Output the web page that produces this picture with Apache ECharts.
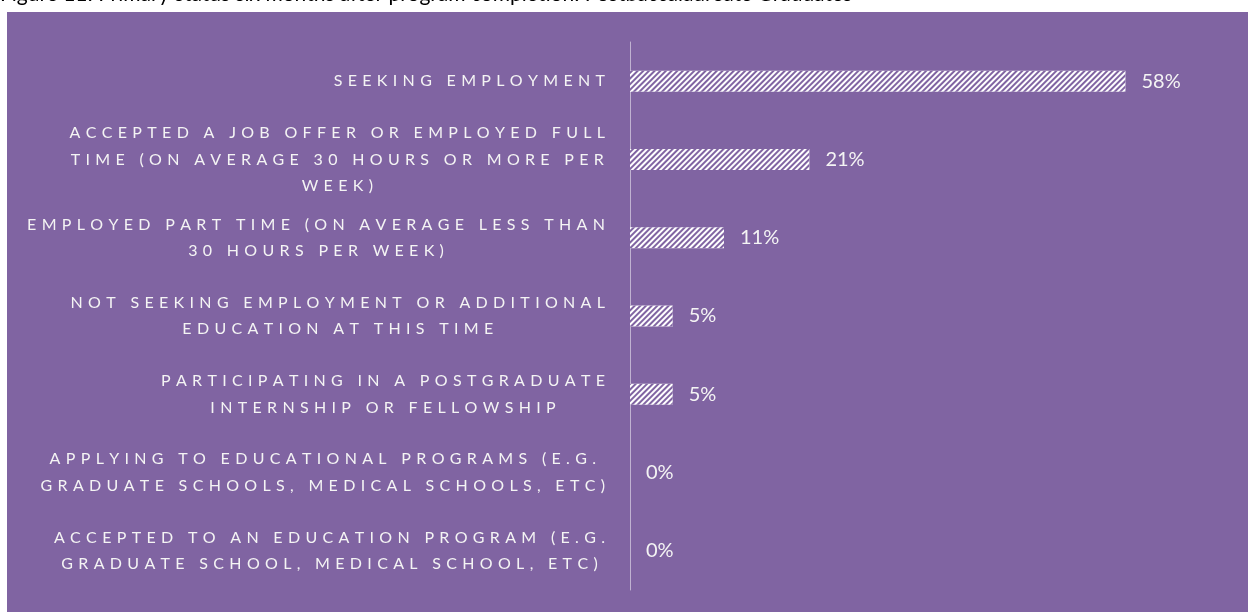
<!DOCTYPE html>
<html>
<head>
<meta charset="utf-8">
<script src="https://cdn.jsdelivr.net/npm/echarts@6/dist/echarts.min.js"></script>
<style>
  html, body { margin: 0; padding: 0; background: #ffffff; }
  #chart { width: 1248px; height: 612px; }
</style>
</head>
<body>
<div id="chart"></div>
<script>
// Status categories, top to bottom (line breaks as set in the label)
const categories = [
  'SEEKING EMPLOYMENT',
  'ACCEPTED A JOB OFFER OR EMPLOYED FULL\nTIME (ON AVERAGE 30 HOURS OR MORE PER\nWEEK)',
  'EMPLOYED PART TIME (ON AVERAGE LESS THAN\n30 HOURS PER WEEK)',
  'NOT SEEKING EMPLOYMENT OR ADDITIONAL\nEDUCATION AT THIS TIME',
  'PARTICIPATING IN A POSTGRADUATE\nINTERNSHIP OR FELLOWSHIP',
  'APPLYING TO EDUCATIONAL PROGRAMS (E.G.\nGRADUATE SCHOOLS, MEDICAL SCHOOLS, ETC)',
  'ACCEPTED TO AN EDUCATION PROGRAM (E.G.\nGRADUATE SCHOOL, MEDICAL SCHOOL, ETC)'
];

// Share of respondents, percent
const shares = [58, 21, 11, 5, 5, 0, 0];

const titleText = 'Figure 11: Primary status six months after program completion: Postbaccalaureate Graduates';

const PANEL = '#8064A2';
const TEXT = '#f4f4f4';

// Tracked-out capitals: each line is spaced letter by letter and centred in its block
function trackLine(line) {
  return Array.from(line).join('\u2004');
}
function labelFormatter(value) {
  return value.split('\n').map(l => '{c|' + trackLine(l) + '}').join('\n');
}

const chart = echarts.init(document.getElementById('chart'), null, { renderer: 'canvas' });

chart.setOption({
  backgroundColor: '#ffffff',
  animation: false,
  graphic: [
    {
      type: 'rect',
      left: 7, top: 12,
      shape: { width: 1241, height: 600 },
      style: { fill: PANEL },
      z: -10
    },
    {
      type: 'text',
      x: 0, y: -6,
      style: {
        text: titleText,
        font: '21px Lato',
        fill: '#000000',
        verticalAlign: 'middle'
      },
      z: -5
    }
  ],
  grid: { left: 630, right: 20, top: 42, bottom: 22, containLabel: false, outerBoundsMode: 'none' },
  xAxis: {
    type: 'value',
    min: 0,
    max: 70,
    show: false
  },
  yAxis: {
    type: 'category',
    data: categories,
    inverse: true,
    axisLine: { show: true, lineStyle: { color: 'rgba(255,255,255,0.5)', width: 1 } },
    axisTick: { show: false },
    axisLabel: {
      margin: 25,
      color: TEXT,
      formatter: labelFormatter,
      rich: {
        c: {
          align: 'center',
          fontFamily: 'Lato',
          fontSize: 16,
          color: TEXT,
          lineHeight: 26.5
        }
      }
    }
  },
  series: [{
    type: 'bar',
    data: shares,
    barWidth: 21,
    itemStyle: {
      color: '#ffffff',
      decal: {
        symbol: 'rect',
        color: PANEL,
        dashArrayX: [1, 0],
        dashArrayY: [2, 1.6],
        rotation: -Math.PI / 4
      }
    },
    label: {
      show: true,
      position: 'right',
      distance: 16,
      formatter: p => p.value + '%',
      fontFamily: 'Lato',
      fontSize: 20,
      color: TEXT
    }
  }]
});
</script>
</body>
</html>
